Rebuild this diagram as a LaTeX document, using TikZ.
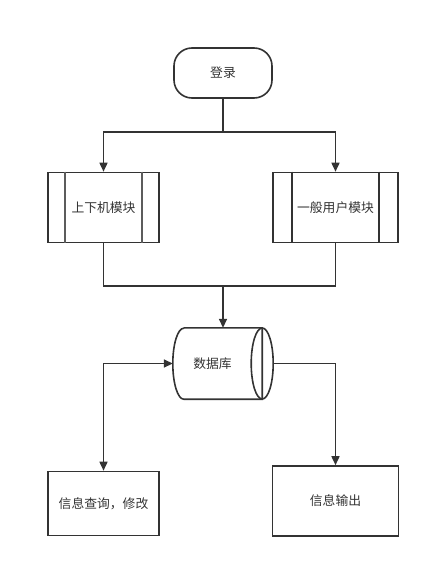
\documentclass[tikz,border=0pt]{standalone}
\usepackage{fontspec}
\setmainfont{Noto Sans CJK SC}
\usepackage{tikz}
\usetikzlibrary{arrows.meta}
\definecolor{ink}{HTML}{333333}
\tikzset{
  every node/.style={font=\fontsize{12.8}{15}\selectfont, text=ink},
  line/.style={draw=ink, line width=1.6pt},
  arr/.style={line, -{Triangle[length=9pt,width=8pt]}},
  biarr/.style={line, {Triangle[length=9pt,width=8pt]}-{Triangle[length=9pt,width=8pt]}},
  startbox/.style={line, rounded corners=18pt, minimum width=98pt, minimum height=50pt},
  modbox/.style={line, minimum height=70pt},
  funcbox/.style={line, minimum height=64pt}
}
\begin{document}
\begin{tikzpicture}[x=1pt, y=-1pt]
		%%%%% START %%%%%
		\useasboundingbox (0, 0) rectangle (430, 567);
		
		\node[startbox] (login) at (223, 73) {登录};
		
		\node[modbox, minimum width=111pt] (pc) at (103.5, 207.5) {上下机模块};
		\draw[line, draw=ink!80] ([xshift=18pt]pc.north west) -- ([xshift=18pt]pc.south west);
		\draw[line, draw=ink!80] ([xshift=-18pt]pc.north east) -- ([xshift=-18pt]pc.south east);
		
		\node[modbox, minimum width=125pt] (user) at (335.5, 207.5) {一般用户模块};
		\draw[line] ([xshift=20pt]user.north west) -- ([xshift=20pt]user.south west);
		\draw[line] ([xshift=-20pt]user.north east) -- ([xshift=-20pt]user.south east);
		
		\node[minimum width=89pt, minimum height=71pt, inner sep=0pt] (db) at (217.5, 363.5) {\hspace*{-10pt}数据库};
		\draw[line] ([xshift=11pt]db.north west) -- (db.north east)
			-- (db.south east) -- ([xshift=11pt]db.south west)
			arc[start angle=90, end angle=270, x radius=11, y radius=35.5];
		\draw[line] (db.east) ellipse [x radius=11, y radius=35.5];
		\coordinate (dbcap) at ([xshift=11pt]db.east);
		
		\node[funcbox, minimum width=111pt] (query) at (103.5, 503.5) {信息查询，修改};
		\node[line, minimum width=126pt, minimum height=70pt] (output) at (335.5, 501) {信息输出};
		
		\coordinate (split) at (223, 132);
		\coordinate (merge) at (223, 286);
		
		\draw[line] (login.south) -- (split);
		\draw[arr] (split) -| (pc.north);
		\draw[arr] (split) -| (user.north);
		\draw[line] (pc.south) |- (merge);
		\draw[line] (user.south) |- (merge);
		\draw[arr] (merge) -- (merge |- db.north);
		
		\draw[biarr] (query.north) |- (db.west);
		\draw[arr] (dbcap) -| (output.north);
		%%%%% END %%%%%
\end{tikzpicture}
\end{document}
